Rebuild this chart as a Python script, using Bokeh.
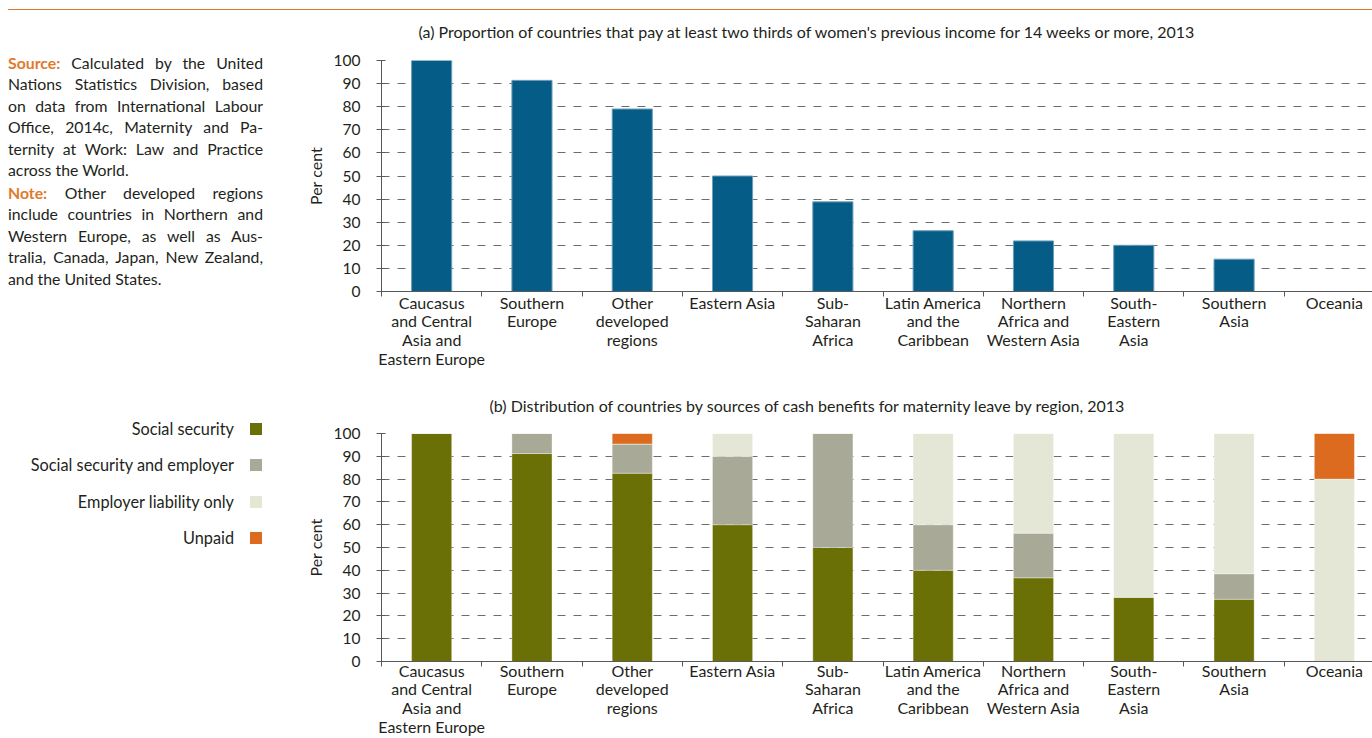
from bokeh.plotting import figure
from bokeh.models import Range1d, FixedTicker, ColumnDataSource, Div, Title
from bokeh.layouts import column, row
from bokeh.embed import file_html
from bokeh.resources import INLINE

# ---- data -----------------------------------------------------------------
regions = [
    "Caucasus\nand Central\nAsia and\nEastern Europe",
    "Southern\nEurope",
    "Other\ndeveloped\nregions",
    "Eastern Asia",
    "Sub-\nSaharan\nAfrica",
    "Latin America\nand the\nCaribbean",
    "Northern\nAfrica and\nWestern Asia",
    "South-\nEastern\nAsia",
    "Southern\nAsia",
    "Oceania",
]

# (a) share of countries paying >= 2/3 of previous earnings for 14+ weeks
pay_two_thirds = [100, 91.4, 79.0, 50.0, 38.8, 26.3, 21.9, 20.0, 14.0, 0]

# (b) sources of maternity cash benefits (per cent of countries)
social_security = [100, 91.2, 82.6, 60, 50, 40, 36.7, 28.2, 27.3, 0]
social_security_employer = [0, 8.8, 12.8, 30, 50, 20, 19.6, 0, 11.2, 0]
employer_only = [0, 0, 0, 10, 0, 40, 43.7, 71.8, 61.5, 80]
unpaid = [0, 0, 4.6, 0, 0, 0, 0, 0, 0, 20]

series_names = ["Social security", "Social security and employer",
                "Employer liability only", "Unpaid"]
series_colors = ["#6b7006", "#a8a996", "#e4e6d6", "#dc6b1f"]

y_ticks = list(range(0, 101, 10))

title_a = ("(a) Proportion of countries that pay at least two thirds of women's "
           "previous income for 14 weeks or more, 2013")
title_b = ("(b) Distribution of countries by sources of cash benefits for "
           "maternity leave by region, 2013")

# ---- style ----------------------------------------------------------------
FONT = "Lato"
TEXT = "#231f20"
ORANGE = "#e07a2c"
AXIS = "#58595b"
GRID = "#6d6e71"

idx = list(range(len(regions)))


def base_figure(title, title_offset, title_standoff, height, top, bottom,
                label_standoff):
    p = figure(width=1102, height=height,
               x_range=Range1d(-0.5, 9.38), y_range=Range1d(0, 100),
               output_backend="svg", toolbar_location=None, tools="",
               min_border_left=111, min_border_right=0,
               min_border_top=top, min_border_bottom=bottom)
    p.title = Title(text=title, align="left", offset=title_offset,
                    standoff=title_standoff,
                    text_font=FONT, text_font_size="16px",
                    text_font_style="normal", text_color=TEXT)
    p.outline_line_color = None
    p.background_fill_color = "white"
    p.border_fill_color = None

    xa = p.xaxis[0]
    xa.ticker = FixedTicker(ticks=idx, minor_ticks=[i - 0.5 for i in range(11)])
    xa.major_label_overrides = {i: lab for i, lab in zip(idx, regions)}
    xa.major_tick_out = 0
    xa.major_tick_in = 0
    xa.minor_tick_out = 5
    xa.minor_tick_in = 0
    xa.minor_tick_line_color = AXIS
    xa.axis_line_color = AXIS
    xa.major_label_standoff = label_standoff
    xa.major_label_text_font = FONT
    xa.major_label_text_font_size = "16px"
    xa.major_label_text_color = TEXT
    xa.major_label_text_line_height = 0.99

    ya = p.yaxis[0]
    ya.ticker = FixedTicker(ticks=y_ticks)
    ya.major_tick_in = 4
    ya.major_tick_out = 5
    ya.minor_tick_in = 0
    ya.minor_tick_out = 0
    ya.major_tick_line_color = AXIS
    ya.axis_line_color = AXIS
    ya.major_label_standoff = 16
    ya.major_label_text_font = FONT
    ya.major_label_text_font_size = "15.5px"
    ya.major_label_text_color = TEXT
    ya.axis_label = "Per cent"
    ya.axis_label_text_font = FONT
    ya.axis_label_text_font_size = "16px"
    ya.axis_label_text_font_style = "normal"
    ya.axis_label_text_color = TEXT
    ya.axis_label_standoff = 6

    p.xgrid.visible = False
    p.ygrid.ticker = FixedTicker(ticks=y_ticks)
    p.ygrid.grid_line_color = GRID
    p.ygrid.grid_line_dash = "8 8"
    p.ygrid.grid_line_width = 1
    return p


# ---- panel (a) --------------------------------------------------------------
fig_a = base_figure(title_a, 37, 39, 374, 60, 83, -4)
src_a = ColumnDataSource(dict(x=idx, top=pay_two_thirds))
fig_a.vbar(x="x", top="top", width=0.4, source=src_a,
           fill_color="#055d87", line_color="#6d9fbb", line_width=1)

# ---- panel (b) --------------------------------------------------------------
fig_b = base_figure(title_b, 108, 37, 364, 59, 75, -6)
src_b = ColumnDataSource(dict(x=idx, ss=social_security,
                              sse=social_security_employer,
                              el=employer_only, up=unpaid))
fig_b.vbar_stack(["ss", "sse", "el", "up"], x="x", width=0.4, source=src_b,
                 fill_color=series_colors, line_color="white",
                 line_alpha=0.35, line_width=1)

# ---- side texts (with the header rule running across the page) ---------------
src_lines = ["<b style='color:%s'>Source:</b> Calculated by the United" % ORANGE,
             "Nations Statistics Division, based",
             "on data from International Labour",
             "Office, 2014c, Maternity and Pa-",
             "ternity at Work: Law and Practice"]
note_lines = ["<b style='color:%s'>Note:</b> Other developed regions" % ORANGE,
              "include countries in Northern and",
              "Western Europe, as well as Aus-",
              "tralia, Canada, Japan, New Zealand,"]

line_css = ("white-space:nowrap;text-align:justify;text-align-last:justify;"
            "height:21.4px;line-height:21.4px;")
last_css = "white-space:nowrap;height:21.4px;line-height:21.4px;"

html = ['<div style="position:relative;width:270px;height:374px;overflow:visible;">',
        '<div style="position:absolute;left:8px;top:9px;width:1364px;height:1px;'
        'background:#e0762c;"></div>',
        '<div style="position:absolute;left:8px;top:52px;width:255px;'
        'font-family:Lato;font-size:15.8px;color:%s;">' % TEXT]
for ln in src_lines:
    html.append('<div style="%s">%s</div>' % (line_css, ln))
html.append('<div style="%s">across the World.</div>' % last_css)
html.append('<div style="height:1.6px"></div>')
for ln in note_lines:
    html.append('<div style="%s">%s</div>' % (line_css, ln))
html.append('<div style="%s">and the United States.</div>' % last_css)
html.append('</div></div>')
note = Div(text="".join(html), width=270, height=374, margin=0,
           styles={"overflow": "visible"})

leg = ['<div style="position:relative;width:270px;height:364px;'
       'font-family:Lato;font-size:16.3px;color:%s;">' % TEXT]
for k, (name, col) in enumerate(zip(series_names, series_colors)):
    cy = 55 + 36.3 * k
    leg.append('<div style="position:absolute;left:0;width:234px;top:%.1fpx;'
               'height:20px;line-height:20px;text-align:right;">%s</div>'
               % (cy - 10, name))
    leg.append('<div style="position:absolute;left:250px;top:%.1fpx;'
               'width:12px;height:12px;background:%s;"></div>' % (cy - 6, col))
leg.append('</div>')
legend = Div(text="".join(leg), width=270, height=364, margin=0)

layout = column(row(note, fig_a), row(legend, fig_b))

with open("out.html", "w") as f:
    f.write(file_html(layout, INLINE))
